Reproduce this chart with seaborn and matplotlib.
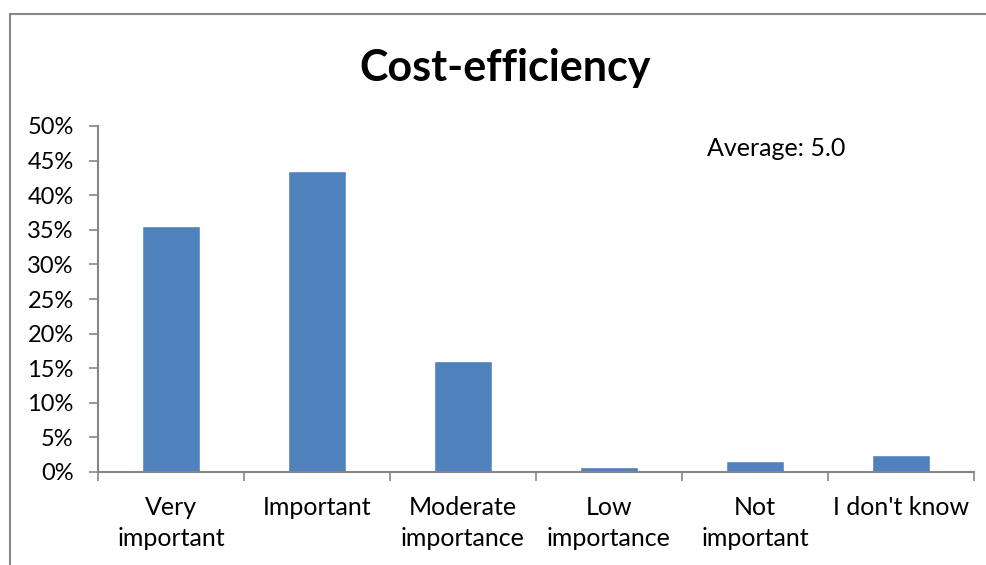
import seaborn as sns
import matplotlib.pyplot as plt
import matplotlib.patches as mpatches
import pandas as pd

# data
categories = ["Very\nimportant", "Important", "Moderate\nimportance",
              "Low\nimportance", "Not\nimportant", "I don't know"]
shares = [35.5, 43.5, 16.1, 0.7, 1.6, 2.4]
y_ticks = [0, 5, 10, 15, 20, 25, 30, 35, 40, 45, 50]

df = pd.DataFrame({"category": categories, "share": shares})

sns.set_style("white")
plt.rcParams['font.family'] = ['Lato', 'DejaVu Sans']
plt.rcParams['text.color'] = 'black'
plt.rcParams['xtick.labelcolor'] = 'black'
plt.rcParams['ytick.labelcolor'] = 'black'

fig = plt.figure(figsize=(9.87, 5.65), dpi=100)
ax = fig.add_axes([98 / 987, 1 - 472 / 565, 876 / 987, 346 / 565])

sns.barplot(data=df, x="category", y="share", color="#4F81BD",
            saturation=1, width=0.4, ax=ax)

grey = "#868686"
ax.set_xlim(-0.5, 5.5)
ax.set_ylim(0, 50)
ax.set_yticks(y_ticks)
ax.set_yticklabels([f"{v}%" for v in y_ticks], fontsize=17)
ax.set_xticks([i - 0.5 for i in range(7)])
ax.set_xticklabels([])
ax.set_xticks(range(6), minor=True)
ax.set_xticklabels(categories, minor=True, fontsize=18, linespacing=1.45)
ax.tick_params(axis="x", which="major", direction="out", length=6.5,
               color=grey, width=1.2, bottom=True)
ax.tick_params(axis="x", which="minor", length=0, pad=17)
ax.tick_params(axis="y", direction="out", length=6.5, color=grey,
               width=1.2, left=True, pad=11)
ax.set_xlabel("")
ax.set_ylabel("")
for side in ["top", "right"]:
    ax.spines[side].set_visible(False)
for side in ["left", "bottom"]:
    ax.spines[side].set_color(grey)
    ax.spines[side].set_linewidth(1.5)

ax.text(0.695, 0.935, "Average: 5.0", transform=ax.transAxes, fontsize=18,
        ha="left", va="center")
fig.text(505 / 987, 1 - 68 / 565, "Cost-efficiency", fontsize=31,
         fontweight="bold", ha="center", va="center")

# outer chart frame (runs off the right and bottom edges)
frame = mpatches.Rectangle((10 / 987, -0.1), 1.1, 1 - 14 / 565 + 0.1,
                           transform=fig.transFigure, fill=False,
                           edgecolor=grey, linewidth=1.5, clip_on=False)
fig.patches.append(frame)

fig.savefig("out.png", dpi=100)
